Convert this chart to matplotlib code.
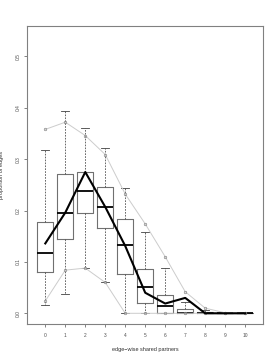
import numpy as np
import matplotlib
matplotlib.use("Agg")
import matplotlib.pyplot as plt

plt.rcParams['font.family'] = ['Liberation Sans', 'DejaVu Sans']

# edge-wise shared partners (0..10)
esp = [0, 1, 2, 3, 4, 5, 6, 7, 8, 9, 10]

# simulated distributions: box stats
q1 = [0.080, 0.144, 0.195, 0.167, 0.076, 0.021, 0.000, 0.000, 0.000, 0.0, 0.0]
med = [0.118, 0.196, 0.239, 0.206, 0.132, 0.051, 0.015, 0.000, 0.000, 0.0, 0.0]
q3 = [0.177, 0.271, 0.275, 0.245, 0.183, 0.086, 0.035, 0.008, 0.002, 0.0, 0.0]
whis_lo = [0.016, 0.038, 0.088, 0.060, 0.000, 0.000, 0.000, 0.000, 0.000, 0.0, 0.0]
whis_hi = [0.317, 0.393, 0.360, 0.321, 0.243, 0.158, 0.088, 0.022, 0.006, 0.0, 0.0]

# extremes of simulations (gray lines)
sim_max = [0.358, 0.372, 0.346, 0.309, 0.232, 0.174, 0.110, 0.042, 0.010, 0.001, 0.0]
sim_min = [0.024, 0.084, 0.088, 0.060, 0.000, 0.000, 0.000, 0.000, 0.000, 0.0, 0.0]

# observed network (black line)
observed = [0.136, 0.196, 0.275, 0.207, 0.131, 0.040, 0.019, 0.030, 0.000, 0.0, 0.0]

fig = plt.figure(figsize=(2.77, 3.58), dpi=100)
ax = fig.add_axes([0.0975, 0.095, 0.8515, 0.832])

stats = []
for i in range(len(esp)):
    stats.append(dict(q1=q1[i], med=med[i], q3=q3[i],
                      whislo=whis_lo[i], whishi=whis_hi[i], fliers=[]))

ax.bxp(stats, positions=esp, widths=0.8, showfliers=False,
       boxprops=dict(color='#707070', lw=0.8),
       medianprops=dict(color='black', lw=1.3),
       whiskerprops=dict(color='#505050', lw=0.6, linestyle=(0, (2, 1.5))),
       capprops=dict(color='#404040', lw=0.6),
       capwidths=0.4)

ax.plot(esp, sim_max, color='#cccccc', lw=0.7, marker='o', ms=1.8,
        mfc='none', mec='#888888', mew=0.5, zorder=3)
ax.plot(esp, sim_min, color='#cccccc', lw=0.7, marker='o', ms=1.8,
        mfc='none', mec='#888888', mew=0.5, zorder=3)
ax.plot(esp, observed, color='black', lw=1.5, zorder=4)

ax.set_xlim(-0.915, 10.885)
ax.set_ylim(-0.0208, 0.559)
ax.set_xticks(esp)
ax.set_xticklabels([str(v) for v in esp])
ax.set_yticks([0.0, 0.1, 0.2, 0.3, 0.4, 0.5])
ax.set_yticklabels(['0.0', '0.1', '0.2', '0.3', '0.4', '0.5'], rotation=90, va='center')

for s in ax.spines.values():
    s.set_color('#808080')
    s.set_linewidth(0.8)
ax.tick_params(axis='both', labelsize=3.5, length=2.2, width=0.5,
               color='#505050', labelcolor='#505050')
ax.tick_params(axis='x', pad=4.5)
ax.tick_params(axis='y', pad=2.5)

ax.set_xlabel('edge\u2212wise shared partners', fontsize=4, color='#303030', labelpad=6)
ax.set_ylabel('proportion of edges', fontsize=4, color='#303030', labelpad=8)

fig.savefig('out.png', dpi=100)
